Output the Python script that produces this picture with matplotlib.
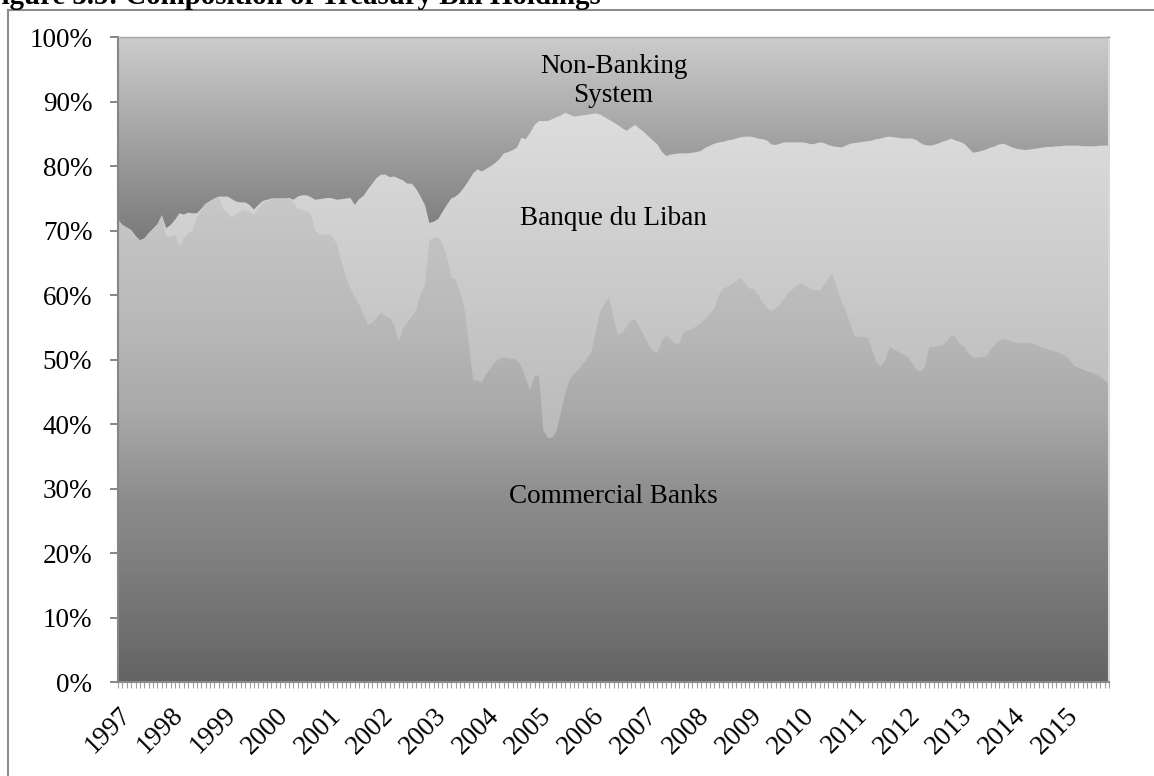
import numpy as np
import matplotlib
matplotlib.use("Agg")
import matplotlib.pyplot as plt
from matplotlib.colors import LinearSegmentedColormap
from matplotlib.lines import Line2D
from matplotlib.transforms import ScaledTranslation

# ---------------- data (monthly shares, %, Jan 1997 - Nov 2015) ----------------
years = [str(y) for y in range(1997, 2016)]

commercial_banks = [
    71.7, 70.9, 70.5, 70.1, 69.2, 68.5, 68.8, 69.6, 70.3, 71.0, 72.4, 69.0,   # 1997
    69.1, 69.4, 67.5, 68.8, 69.6, 70.0, 72.0, 73.1, 74.1, 74.6, 75.0, 75.3,   # 1998
    73.3, 72.7, 72.0, 72.6, 73.0, 73.3, 72.9, 72.4, 73.4, 74.3, 74.6, 75.0,   # 1999
    75.0, 75.0, 75.0, 75.1, 74.5, 73.3, 73.3, 73.1, 72.5, 69.9, 69.4, 69.4,   # 2000
    69.4, 69.0, 67.8, 65.1, 62.8, 61.1, 59.7, 58.5, 56.9, 55.4, 55.7, 56.5,   # 2001
    57.3, 56.8, 56.4, 55.4, 52.7, 54.8, 55.8, 56.6, 57.7, 60.0, 61.5, 68.5,   # 2002
    68.9, 69.0, 68.0, 66.0, 62.7, 62.4, 60.4, 58.0, 52.5, 46.9, 46.7, 46.5,   # 2003
    47.8, 48.7, 49.6, 50.2, 50.3, 50.2, 50.1, 50.0, 49.0, 47.0, 45.3, 47.4,   # 2004
    47.6, 39.0, 37.9, 37.9, 38.8, 41.8, 44.7, 46.9, 47.8, 48.4, 49.3, 50.2,   # 2005
    51.3, 54.5, 57.5, 58.7, 59.7, 56.5, 53.8, 54.2, 55.1, 56.1, 56.2, 55.0,   # 2006
    53.6, 52.3, 51.4, 51.0, 52.8, 53.8, 53.2, 52.5, 52.5, 54.2, 54.5, 54.8,   # 2007
    55.2, 55.7, 56.4, 57.1, 57.9, 59.9, 61.0, 61.3, 61.7, 62.2, 62.7, 61.8,   # 2008
    61.0, 61.0, 60.0, 58.9, 58.0, 57.5, 58.0, 58.5, 59.5, 60.4, 61.0, 61.6,   # 2009
    61.8, 61.4, 60.9, 60.8, 60.7, 61.5, 62.6, 63.3, 61.0, 59.0, 57.5, 55.5,   # 2010
    53.6, 53.5, 53.5, 53.4, 51.5, 49.6, 48.9, 50.0, 52.0, 51.6, 51.2, 50.8,   # 2011
    50.5, 49.6, 48.5, 48.1, 48.8, 51.9, 52.0, 52.1, 52.2, 52.8, 53.8, 53.5,   # 2012
    52.4, 52.0, 51.0, 50.3, 50.3, 50.4, 50.5, 51.5, 52.4, 53.0, 53.2, 53.0,   # 2013
    52.8, 52.6, 52.6, 52.6, 52.6, 52.4, 52.1, 51.8, 51.6, 51.4, 51.2, 50.9,   # 2014
    50.6, 50.0, 49.0, 48.8, 48.5, 48.2, 48.0, 47.7, 47.3, 46.8, 46.2,         # 2015
]

banque_du_liban = [
    0.0, 0.0, 0.0, 0.0, 0.0, 0.0, 0.0, 0.0, 0.0, 0.0, 0.0, 1.4,              # 1997
    1.8, 2.3, 5.2, 3.7, 3.2, 2.7, 0.7, 0.3, 0.1, 0.0, 0.0, 0.0,              # 1998
    2.0, 2.6, 2.9, 1.9, 1.4, 1.1, 1.1, 0.9, 0.6, 0.3, 0.2, 0.0,              # 1999
    0.0, 0.0, 0.0, 0.0, 0.3, 2.0, 2.2, 2.4, 2.7, 4.9, 5.5, 5.6,              # 2000
    5.7, 6.0, 7.0, 9.8, 12.2, 14.0, 14.3, 16.4, 18.5, 21.0, 21.6, 21.7,      # 2001
    21.4, 21.9, 21.9, 23.0, 25.4, 23.0, 21.5, 20.7, 18.8, 15.3, 12.5, 2.7,   # 2002
    2.5, 2.8, 4.9, 8.0, 12.3, 12.9, 15.5, 18.8, 25.3, 32.0, 32.8, 32.7,      # 2003
    31.8, 31.3, 30.9, 30.9, 31.7, 32.0, 32.4, 32.9, 35.4, 37.2, 39.9, 39.0,  # 2004
    39.4, 48.0, 49.1, 49.4, 48.8, 46.1, 43.6, 41.1, 39.9, 39.4, 38.6, 37.8,  # 2005
    36.8, 33.7, 30.5, 28.9, 27.5, 30.3, 32.6, 31.7, 30.4, 29.9, 30.2, 30.8,  # 2006
    31.7, 32.3, 32.6, 32.4, 29.5, 27.8, 28.6, 29.4, 29.5, 27.8, 27.5, 27.3,  # 2007
    27.0, 26.7, 26.5, 26.1, 25.6, 23.8, 22.8, 22.7, 22.4, 22.1, 21.8, 22.8,  # 2008
    23.6, 23.5, 24.3, 25.3, 26.0, 25.9, 25.3, 25.0, 24.2, 23.3, 22.7, 22.1,  # 2009
    21.9, 22.2, 22.5, 22.7, 23.0, 22.1, 20.7, 19.8, 22.0, 23.9, 25.7, 28.0,  # 2010
    30.0, 30.2, 30.3, 30.5, 32.5, 34.6, 35.4, 34.5, 32.6, 32.9, 33.2, 33.5,  # 2011
    33.8, 34.7, 35.6, 35.5, 34.5, 31.3, 31.3, 31.4, 31.6, 31.2, 30.5, 30.5,  # 2012
    31.4, 31.5, 31.8, 31.8, 31.9, 32.0, 32.1, 31.4, 30.7, 30.4, 30.3, 30.2,  # 2013
    30.1, 30.1, 30.0, 29.9, 30.0, 30.3, 30.7, 31.1, 31.4, 31.6, 31.9, 32.2,  # 2014
    32.6, 33.2, 34.2, 34.4, 34.6, 34.9, 35.1, 35.4, 35.9, 36.4, 37.0,        # 2015
]

non_banking = [
    28.3, 29.1, 29.5, 29.9, 30.8, 31.5, 31.2, 30.4, 29.7, 29.0, 27.6, 29.6,  # 1997
    29.1, 28.3, 27.3, 27.5, 27.2, 27.3, 27.3, 26.6, 25.8, 25.4, 25.0, 24.7,  # 1998
    24.7, 24.7, 25.1, 25.5, 25.6, 25.6, 26.0, 26.7, 26.0, 25.4, 25.2, 25.0,  # 1999
    25.0, 25.0, 25.0, 24.9, 25.2, 24.7, 24.5, 24.5, 24.8, 25.2, 25.1, 25.0,  # 2000
    24.9, 25.0, 25.2, 25.1, 25.0, 24.9, 26.0, 25.1, 24.6, 23.6, 22.7, 21.8,  # 2001
    21.3, 21.3, 21.7, 21.6, 21.9, 22.2, 22.7, 22.7, 23.5, 24.7, 26.0, 28.8,  # 2002
    28.6, 28.2, 27.1, 26.0, 25.0, 24.7, 24.1, 23.2, 22.2, 21.1, 20.5, 20.8,  # 2003
    20.4, 20.0, 19.5, 18.9, 18.0, 17.8, 17.5, 17.1, 15.6, 15.8, 14.8, 13.6,  # 2004
    13.0, 13.0, 13.0, 12.7, 12.4, 12.1, 11.7, 12.0, 12.3, 12.2, 12.1, 12.0,  # 2005
    11.9, 11.8, 12.0, 12.4, 12.8, 13.2, 13.6, 14.1, 14.5, 14.0, 13.6, 14.2,  # 2006
    14.7, 15.4, 16.0, 16.6, 17.7, 18.4, 18.2, 18.1, 18.0, 18.0, 18.0, 17.9,  # 2007
    17.8, 17.6, 17.1, 16.8, 16.5, 16.3, 16.2, 16.0, 15.9, 15.7, 15.5, 15.4,  # 2008
    15.4, 15.5, 15.7, 15.8, 16.0, 16.6, 16.7, 16.5, 16.3, 16.3, 16.3, 16.3,  # 2009
    16.3, 16.4, 16.6, 16.5, 16.3, 16.4, 16.7, 16.9, 17.0, 17.1, 16.8, 16.5,  # 2010
    16.4, 16.3, 16.2, 16.1, 16.0, 15.8, 15.7, 15.5, 15.4, 15.5, 15.6, 15.7,  # 2011
    15.7, 15.7, 15.9, 16.4, 16.7, 16.8, 16.7, 16.5, 16.2, 16.0, 15.7, 16.0,  # 2012
    16.2, 16.5, 17.2, 17.9, 17.8, 17.6, 17.4, 17.1, 16.9, 16.6, 16.5, 16.8,  # 2013
    17.1, 17.3, 17.4, 17.5, 17.4, 17.3, 17.2, 17.1, 17.0, 17.0, 16.9, 16.9,  # 2014
    16.8, 16.8, 16.8, 16.8, 16.9, 16.9, 16.9, 16.9, 16.8, 16.8, 16.8,        # 2015
]

series_names = ["Commercial Banks", "Banque du Liban", "Non-Banking\nSystem"]

# ---------------- style ----------------
plt.rcParams["font.family"] = ["Liberation Serif", "DejaVu Serif"]
plt.rcParams["font.size"] = 19.5

W, H = 1154, 776
fig = plt.figure(figsize=(W / 100, H / 100), dpi=100)
fig.patch.set_facecolor("white")
ax = fig.add_axes([118 / W, 1 - 682 / H, (1109 - 118) / W, (682 - 37.3) / H])

n = len(commercial_banks)
x = np.arange(n)
cb = np.array(commercial_banks)
bdl = np.array(banque_du_liban)
nb = np.array(non_banking)
s1 = cb
s2 = cb + bdl
s3 = cb + bdl + nb

grad = np.linspace(0, 1, 512).reshape(-1, 1)


def gradient_area(top, lo, hi, stops, z):
    poly = ax.fill_between(x, 0, top, facecolor="none", edgecolor="none",
                           linewidth=0, zorder=z)
    cmap = LinearSegmentedColormap.from_list("g", stops)
    im = ax.imshow(grad, extent=[x[0], x[-1], lo, hi], origin="lower",
                   aspect="auto", cmap=cmap, interpolation="bilinear",
                   zorder=z)
    im.set_clip_path(poly.get_paths()[0], transform=ax.transData)


# Non-banking (drawn first, covered below by the other layers)
gradient_area(s3, s2.min(), s3.max(),
              [(0.0, "#7a7a7a"), (1.0, "#cccccc")], 1)
# Banque du Liban
gradient_area(s2, s1.min(), s2.max(),
              [(0.0, "#bababa"), (1.0, "#dddddd")], 2)
# Commercial banks
gradient_area(s1, 0, s1.max(),
              [(0.0, "#646464"), (0.37, "#8c8c8c"), (0.55, "#a8a8a8"),
               (0.7, "#b6b6b6"), (1.0, "#c8c8c8")], 3)

ax.set_xlim(0, n - 1)
ax.set_ylim(0, 100)

# y axis
ax.set_yticks(range(0, 101, 10))
ax.set_yticklabels([f"{v}%" for v in range(0, 101, 10)])
ax.tick_params(axis="y", length=5.5, width=1.4, color="#868686", pad=13)

# x axis
ax.xaxis.remove_overlapping_locs = False
ax.set_xticks([12 * k for k in range(len(years))])
ax.set_xticklabels(years, rotation=45, ha="right", va="top",
                   rotation_mode="anchor")
shift = ScaledTranslation(-10 / 100, 0, fig.dpi_scale_trans)
for lab in ax.get_xticklabels():
    lab.set_transform(lab.get_transform() + shift)
ax.set_xticks(x, minor=True)
ax.tick_params(axis="x", which="major", length=0, pad=15)
ax.tick_params(axis="x", which="minor", length=4.5, width=0.8,
               color="#a0a0a0", direction="out")

for side, col, lw in [("left", "#868686", 1.5), ("bottom", "#8a8a8a", 1.5),
                      ("top", "#a6a6a6", 1.0), ("right", "#d9d9d9", 1.5)]:
    ax.spines[side].set_color(col)
    ax.spines[side].set_linewidth(lw)
    ax.spines[side].set_zorder(5)

# in-chart series labels
label_x = 113
ax.text(label_x, 93.2, series_names[2], ha="center", va="center", zorder=6)
ax.text(label_x, 71.9, series_names[1], ha="center", va="center", zorder=6)
ax.text(label_x, 28.7, series_names[0], ha="center", va="center", zorder=6)

# frame of the surrounding box and clipped caption
fig.add_artist(Line2D([8 / W, 8 / W], [0, 1 - 9.5 / H], transform=fig.transFigure,
                      color="#8c8c8c", lw=1.5))
fig.add_artist(Line2D([8 / W, 1.0], [1 - 9.5 / H, 1 - 9.5 / H],
                      transform=fig.transFigure, color="#8c8c8c", lw=1.5))
fig.text(-16 / W, 1 - 4 / H, "Figure 3.5: Composition of Treasury Bill Holdings",
         ha="left", va="baseline", fontweight="bold", fontsize=20.8)

fig.savefig("out.png", dpi=100)
